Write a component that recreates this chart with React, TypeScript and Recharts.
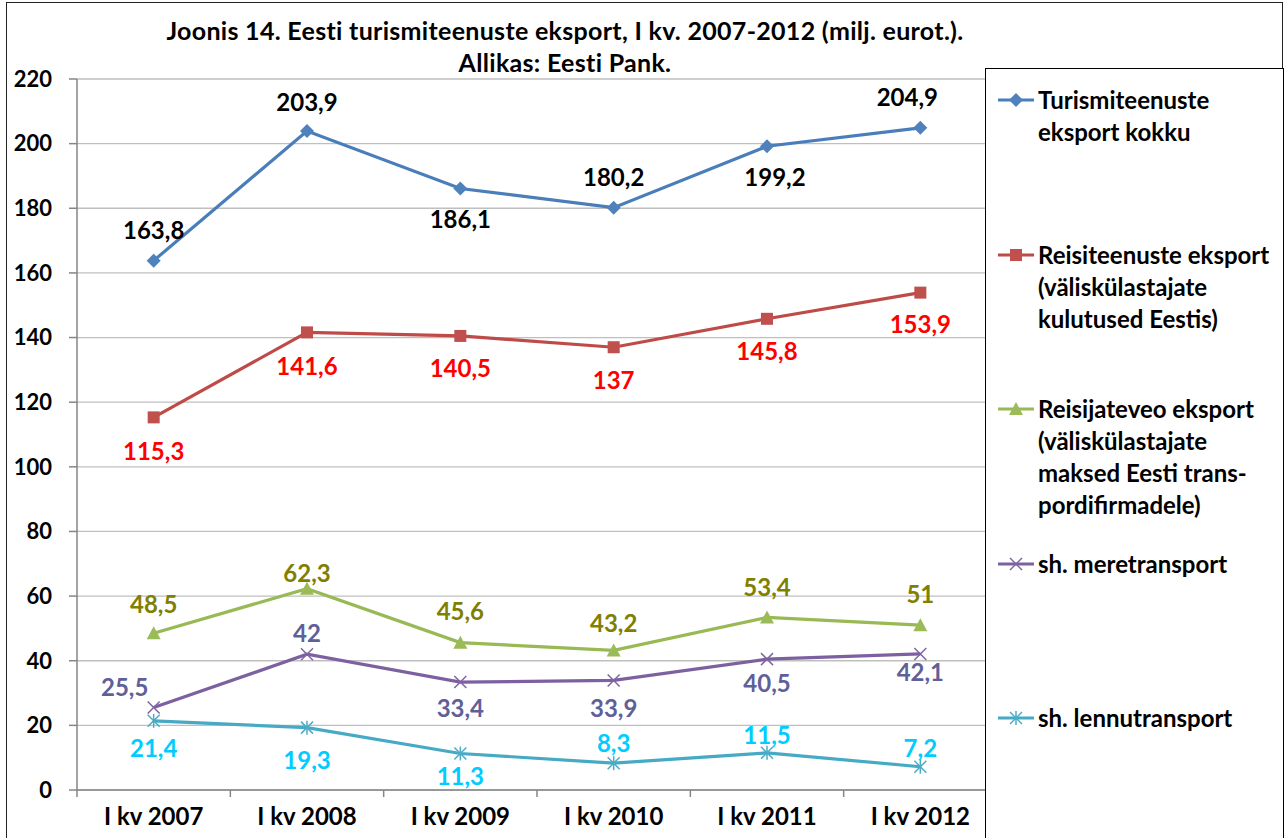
import React from "react";
import { LineChart, Line, CartesianGrid, XAxis, YAxis, LabelList } from "recharts";

const categories = ["I kv 2007", "I kv 2008", "I kv 2009", "I kv 2010", "I kv 2011", "I kv 2012"];
const totalExport = [163.8, 203.9, 186.1, 180.2, 199.2, 204.9];
const travelExport = [115.3, 141.6, 140.5, 137, 145.8, 153.9];
const passengerTransport = [48.5, 62.3, 45.6, 43.2, 53.4, 51];
const seaTransport = [25.5, 42, 33.4, 33.9, 40.5, 42.1];
const airTransport = [21.4, 19.3, 11.3, 8.3, 11.5, 7.2];
const yTicks = [0, 20, 40, 60, 80, 100, 120, 140, 160, 180, 200, 220];

const data = categories.map((cat, i) => ({
  cat,
  total: totalExport[i],
  travel: travelExport[i],
  passenger: passengerTransport[i],
  sea: seaTransport[i],
  air: airTransport[i],
}));

const FONT = "Lato, 'Open Sans', sans-serif";

type Shape = "diamond" | "square" | "triangle" | "cross" | "star";

interface SeriesDef {
  key: string;
  legend: string[];
  stroke: string;
  marker: string;
  shape: Shape;
  labelColor: string;
  // label nudges per point (dx, dy), like the manual placement in the original
  dx: number[];
  dy: number[];
}

const series: SeriesDef[] = [
  {
    key: "total",
    legend: ["Turismiteenuste", "eksport kokku"],
    stroke: "#4A7EBB",
    marker: "#4F81BD",
    shape: "diamond",
    labelColor: "#000000",
    dx: [0, 0, 0, 0, 8, -13],
    dy: [-31, -30, 30, -31, 30, -31],
  },
  {
    key: "travel",
    legend: ["Reisiteenuste eksport", "(väliskülastajate", "kulutused Eestis)"],
    stroke: "#BE4B48",
    marker: "#C0504D",
    shape: "square",
    labelColor: "#FF0000",
    dx: [0, 0, 0, 0, 0, 0],
    dy: [33, 33, 32, 32, 32, 31],
  },
  {
    key: "passenger",
    legend: ["Reisijateveo eksport", "(väliskülastajate", "maksed Eesti trans-", "pordifirmadele)"],
    stroke: "#98B954",
    marker: "#9BBB59",
    shape: "triangle",
    labelColor: "#808000",
    dx: [0, 0, 0, 0, 0, 0],
    dy: [-30, -16, -32, -28, -31, -32],
  },
  {
    key: "sea",
    legend: ["sh. meretransport"],
    stroke: "#7D60A0",
    marker: "#8064A2",
    shape: "cross",
    labelColor: "#606099",
    dx: [-29, 0, 0, 0, 0, 0],
    dy: [-21, -22, 25, 27, 23, 18],
  },
  {
    key: "air",
    legend: ["sh. lennutransport"],
    stroke: "#46AAC5",
    marker: "#4BACC6",
    shape: "star",
    labelColor: "#00CCFF",
    dx: [0, 0, 0, 0, 0, 0],
    dy: [27, 32, 22, -21, -18, -19],
  },
];

const Marker = ({ cx, cy, shape, color }: { cx: number; cy: number; shape: Shape; color: string }) => {
  const r = 6;
  if (shape === "diamond")
    return <polygon points={`${cx},${cy - r - 1} ${cx + r + 1},${cy} ${cx},${cy + r + 1} ${cx - r - 1},${cy}`} fill={color} />;
  if (shape === "square") return <rect x={cx - r} y={cy - r} width={2 * r} height={2 * r} fill={color} />;
  if (shape === "triangle")
    return <polygon points={`${cx},${cy - r - 1} ${cx + r + 1},${cy + r} ${cx - r - 1},${cy + r}`} fill={color} />;
  if (shape === "cross")
    return (
      <g stroke={color} strokeWidth={1.5}>
        <line x1={cx - r} y1={cy - r} x2={cx + r} y2={cy + r} />
        <line x1={cx - r} y1={cy + r} x2={cx + r} y2={cy - r} />
      </g>
    );
  return (
    <g stroke={color} strokeWidth={1.5}>
      <line x1={cx - r} y1={cy - r} x2={cx + r} y2={cy + r} />
      <line x1={cx - r} y1={cy + r} x2={cx + r} y2={cy - r} />
      <line x1={cx} y1={cy - r - 1} x2={cx} y2={cy + r + 1} />
    </g>
  );
};

const XTick = (props: any) => {
  const { x, y, payload, width } = props;
  const half = payload.offset || width / categories.length / 2;
  return (
    <g>
      <line x1={x - half} y1={y} x2={x - half} y2={y + 7} stroke="#868686" strokeWidth={1.5} />
      <text x={x} y={y + 18} dy="0.71em" textAnchor="middle" fill="#000" fontSize={24} fontWeight={700} fontFamily={FONT}>
        {payload.value}
      </text>
    </g>
  );
};

const fmt = (v: number) => String(v).replace(".", ",");

export default function App() {
  return (
    <div style={{ position: "absolute", left: 0, top: 0, width: 1286, height: 838, overflow: "hidden", background: "#fff" }}>
      <div
        style={{
          position: "absolute",
          left: 6,
          top: 2,
          width: 1277,
          height: 900,
          border: "1.5px solid #222",
          boxSizing: "border-box",
        }}
      />
      <div style={{ position: "absolute", left: 0, top: 0 }}>
        <LineChart width={1286} height={838} data={data} margin={{ top: 79, right: 289, bottom: 0, left: 0 }}>
          <CartesianGrid vertical={false} stroke="#BFBFBF" strokeWidth={1.3} />
          <XAxis
            dataKey="cat"
            scale="band"
            height={48}
            axisLine={{ stroke: "#868686", strokeWidth: 1.5 }}
            tickLine={false}
            tickSize={0}
            tickMargin={0}
            tick={<XTick />}
            interval={0}
          />
          <YAxis
            width={77}
            domain={[0, 220]}
            ticks={yTicks}
            interval={0}
            axisLine={{ stroke: "#868686", strokeWidth: 1.5 }}
            tickLine={{ stroke: "#868686", strokeWidth: 1.5 }}
            tickSize={8}
            tickMargin={17}
            tick={{ fill: "#000", fontSize: 22, fontWeight: 700, fontFamily: FONT }}
          />
          {series.map((s) => (
            <Line
              key={s.key}
              dataKey={s.key}
              type="linear"
              stroke={s.stroke}
              strokeWidth={3.2}
              isAnimationActive={false}
              dot={(p: any) => <Marker key={`${s.key}-${p.index}`} cx={p.cx} cy={p.cy} shape={s.shape} color={s.marker} />}
              activeDot={false}
            >
              <LabelList
                dataKey={s.key}
                content={(p: any) => (
                  <text
                    x={p.x + s.dx[p.index]}
                    y={p.y + s.dy[p.index]}
                    textAnchor="middle"
                    dominantBaseline="central"
                    fill={s.labelColor}
                    fontSize={24}
                    fontWeight={700}
                    fontFamily={FONT}
                  >
                    {fmt(p.value)}
                  </text>
                )}
              />
            </Line>
          ))}
        </LineChart>
      </div>
      <div
        style={{
          position: "absolute",
          left: 0,
          top: 14,
          width: 1130,
          textAlign: "center",
          fontFamily: FONT,
          fontWeight: 700,
          fontSize: 25,
          letterSpacing: 0.3,
          lineHeight: "32px",
          color: "#000",
        }}
      >
        <div>Joonis 14. Eesti turismiteenuste eksport, I kv. 2007-2012 (milj. eurot.).</div>
        <div>Allikas: Eesti Pank.</div>
      </div>
      <div
        style={{
          position: "absolute",
          left: 985,
          top: 68,
          width: 299,
          height: 800,
          border: "1.5px solid #000",
          boxSizing: "border-box",
          background: "#fff",
          paddingTop: 15,
          fontFamily: FONT,
          fontWeight: 700,
          fontSize: 24,
          lineHeight: "32px",
          color: "#000",
        }}
      >
        {series.map((s) => (
          <div key={s.key} style={{ height: 154.5, display: "flex" }}>
            <svg width={52} height={32} style={{ flex: "none" }}>
              <line x1={12} y1={16} x2={48} y2={16} stroke={s.stroke} strokeWidth={3.2} />
              <Marker cx={30} cy={16} shape={s.shape} color={s.marker} />
            </svg>
            <div style={{ whiteSpace: "nowrap" }}>
              {s.legend.map((t) => (
                <div key={t}>{t}</div>
              ))}
            </div>
          </div>
        ))}
      </div>
    </div>
  );
}
